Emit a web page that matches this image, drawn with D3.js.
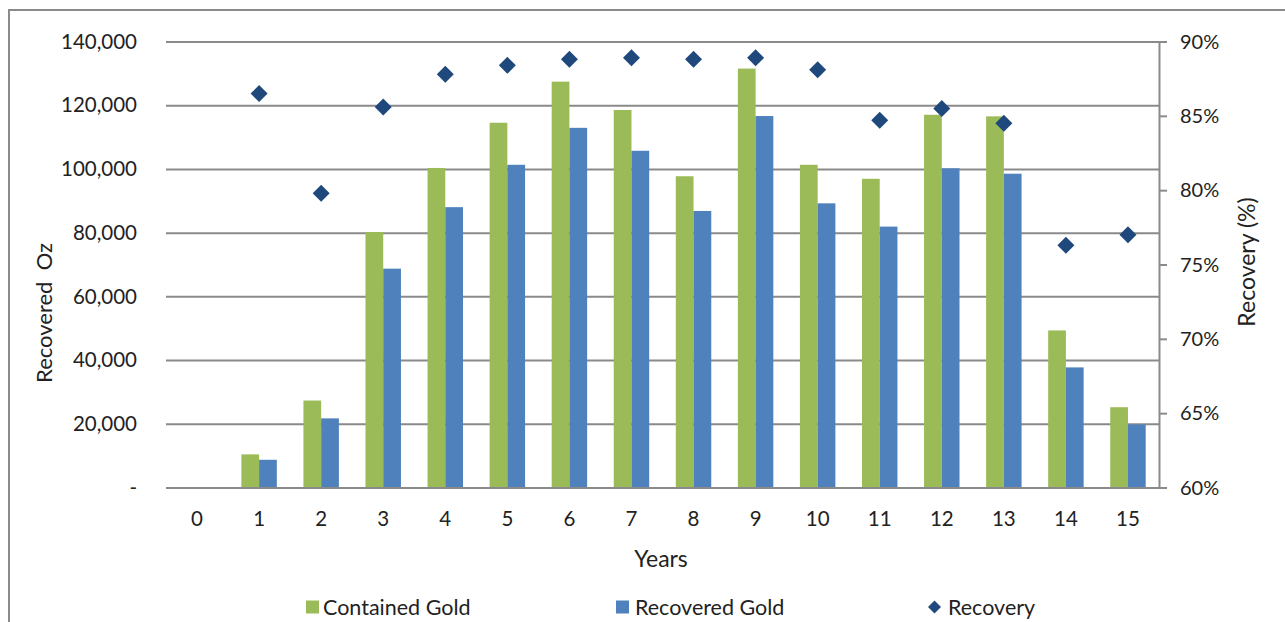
<!DOCTYPE html>
<html><head><meta charset="utf-8">
<script src="https://cdn.jsdelivr.net/npm/d3@7"></script>
<style>
html,body{margin:0;padding:0;background:#fff;}
text{font-family:Lato,"Open Sans",sans-serif;fill:#222;}
</style></head>
<body><svg id="c" width="1285" height="622"></svg>
<script>
const years = ["0","1","2","3","4","5","6","7","8","9","10","11","12","13","14","15"];
const containedGold = [0,10400,27300,80200,100300,114500,127400,118500,97700,131500,101300,96900,117000,116500,49300,25200];
const recoveredGold = [0,8700,21700,68700,88000,101300,112900,105700,86800,116600,89200,81900,100200,98500,37700,19800];
const recovery = [null,86.5,79.8,85.6,87.8,88.4,88.8,88.9,88.8,88.9,88.1,84.7,85.5,84.5,76.3,77.0];
const leftTicks = [0,20000,40000,60000,80000,100000,120000,140000];
const rightTicks = [60,65,70,75,80,85,90];
const seriesNames = ["Contained Gold","Recovered Gold","Recovery"];
const colors = {"Contained Gold":"#9BBB59","Recovered Gold":"#4F81BD","Recovery":"#1F497D"};

const svg = d3.select("#c");
const L = 166, R = 1159, T = 41.5, B = 487.5;

// outer frame
svg.append("rect").attr("x",9).attr("y",10).attr("width",1300).attr("height",700)
  .attr("fill","none").attr("stroke","#8a8a8a").attr("stroke-width",2);

const x = d3.scaleBand().domain(years).range([L,R]).paddingInner(0).paddingOuter(0);
const barW = x.bandwidth()*0.2857;
const xs = d3.scaleBand().domain(["Contained Gold","Recovered Gold"]).range([-barW, barW]);
const y = d3.scaleLinear().domain([0,140000]).range([B,T]);
const y2 = d3.scaleLinear().domain([60,90]).range([B,T]);

// gridlines
const yAxis = d3.axisLeft(y).tickValues(leftTicks).tickSize(-(R-L)).tickPadding(29)
  .tickFormat(d => d===0 ? "-" : d3.format(",")(d));
const gy = svg.append("g").attr("transform",`translate(${L},0)`).call(yAxis);
gy.select(".domain").remove();
gy.selectAll(".tick line").attr("stroke","#8a8a8a").attr("stroke-width",2);
gy.selectAll(".tick text").attr("font-size",20.5).attr("fill","#222").attr("dy","0.33em")
  .style("font-family","Lato");

// bars
const data = years.map((yr,i)=>({yr, c:containedGold[i], r:recoveredGold[i], p:recovery[i]}));
const gBars = svg.append("g");
gBars.selectAll("rect.cg").data(data.filter(d=>d.c>0)).join("rect").attr("class","cg")
  .attr("x",d=>x(d.yr)+x.bandwidth()/2+xs("Contained Gold"))
  .attr("width",xs.bandwidth()).attr("y",d=>y(d.c)).attr("height",d=>y(0)-y(d.c))
  .attr("fill",colors["Contained Gold"]);
gBars.selectAll("rect.rg").data(data.filter(d=>d.r>0)).join("rect").attr("class","rg")
  .attr("x",d=>x(d.yr)+x.bandwidth()/2+xs("Recovered Gold"))
  .attr("width",xs.bandwidth()).attr("y",d=>y(d.r)).attr("height",d=>y(0)-y(d.r))
  .attr("fill",colors["Recovered Gold"]);

// x axis line (0 gridline) and labels
const xAxis = d3.axisBottom(x).tickSize(0).tickPadding(24);
const gx = svg.append("g").attr("transform",`translate(0,${B})`).call(xAxis);
gx.select(".domain").attr("stroke","#8a8a8a").attr("stroke-width",2);
gx.selectAll(".tick text").attr("font-size",20.5).attr("fill","#222").style("font-family","Lato");

// right axis
const yAxisR = d3.axisRight(y2).tickValues(rightTicks).tickSize(8).tickPadding(13)
  .tickFormat(d=>d+"%");
const gr = svg.append("g").attr("transform",`translate(${R},0)`).call(yAxisR);
gr.select(".domain").attr("stroke","#8a8a8a").attr("stroke-width",2);
gr.selectAll(".tick line").attr("stroke","#8a8a8a").attr("stroke-width",2);
gr.selectAll(".tick text").attr("font-size",20).attr("fill","#222").attr("dy","0.33em").style("font-family","Lato");

// diamonds
const diamond = s => `M0,${-s}L${s},0L0,${s}L${-s},0Z`;
svg.append("g").selectAll("path").data(data.filter(d=>d.p!=null)).join("path")
  .attr("d",diamond(8.5))
  .attr("transform",d=>`translate(${x(d.yr)+x.bandwidth()/2},${y2(d.p)})`)
  .attr("fill",colors["Recovery"]);

// axis titles
svg.append("text").attr("transform","translate(52,313) rotate(-90)").attr("text-anchor","middle")
  .attr("font-size",22).attr("xml:space","preserve").text("Recovered  Oz");
svg.append("text").attr("transform","translate(1255,262) rotate(-90)").attr("text-anchor","middle")
  .attr("font-size",23).text("Recovery (%)");
svg.append("text").attr("x",661).attr("y",567).attr("text-anchor","middle")
  .attr("font-size",23).text("Years");

// legend
const legX = [306, 616, 928];
const legTextX = [17, 19, 20];
const lg = svg.append("g");
seriesNames.forEach((n,i)=>{
  const g = lg.append("g").attr("transform",`translate(${legX[i]},607)`);
  if(i<2) g.append("rect").attr("x",0).attr("y",-6.5).attr("width",13).attr("height",13).attr("fill",colors[n]);
  else g.append("path").attr("d",diamond(6.5)).attr("transform","translate(6.5,0)").attr("fill",colors[n]);
  g.append("text").attr("x",legTextX[i]).attr("dy","0.36em").attr("font-size",21.5).text(n);
});
</script></body></html>
